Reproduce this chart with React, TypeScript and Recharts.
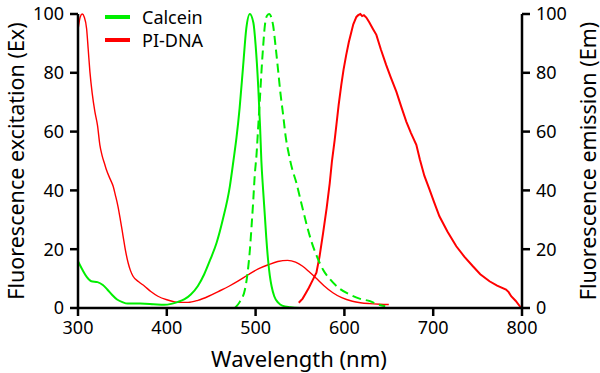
import React from 'react';
import { LineChart, Line, XAxis, YAxis, Legend } from 'recharts';

const wavelengthTicks = [300, 400, 500, 600, 700, 800];
const percentTicks = [0, 20, 40, 60, 80, 100];

// Calcein excitation (solid green)
const calceinExWl = [300, 305, 310, 315, 322, 328, 333, 338, 344, 350, 356, 370, 385, 397, 405, 412, 420, 427, 435, 442, 449, 456, 463, 471, 475, 478.5, 482, 486, 489.5, 493.5, 497.5, 500, 503, 505, 506.5, 508.5, 510.5, 512, 514, 516, 518, 521, 525.5, 530, 539, 550];
const calceinExVal = [15.9, 13, 10.5, 9.1, 8.8, 7.8, 6.3, 4.6, 2.9, 2.0, 1.5, 1.5, 1.3, 1.1, 1.4, 2.0, 3.0, 4.6, 7.5, 11.4, 16.5, 22.1, 30, 41.4, 50, 58, 68, 82.5, 95, 100, 97, 89.5, 75, 62, 50, 40, 31, 24, 16.5, 11, 7.4, 4, 1.8, 0.8, 0.3, 0];

// Calcein emission (dashed green)
const calceinEmWl = [476.7, 482, 488, 491, 493.6, 495.5, 497.4, 499, 501, 503, 505, 506.6, 508.5, 510.4, 513, 515.3, 517.5, 519.8, 522.5, 525.5, 528, 531, 534, 537, 541, 546, 552, 558, 563, 569, 576, 584, 595, 606, 617, 629, 638, 646];
const calceinEmVal = [0, 2, 6.3, 12, 19.9, 28, 36.8, 45, 52, 62, 72, 80.4, 89, 96, 99.5, 100, 99, 96, 89, 80.4, 73, 65.7, 58, 53, 47.5, 42.5, 35, 27.8, 22.5, 17.6, 13, 9.7, 6.5, 4.6, 3.2, 2.3, 1.2, 0.6];

// PI-DNA excitation (thin red)
const piExWl = [300, 302.5, 304.8, 307, 309.7, 311.5, 313.4, 316, 319, 322, 324.6, 327, 330, 332, 336, 339.6, 342, 345, 348, 350.8, 353.5, 356.5, 359, 362, 368, 375, 382, 390, 400, 409, 416, 424, 435, 447, 458, 470, 481, 492, 503, 515, 525, 536, 545, 553, 560, 568, 577, 587, 597, 609, 618, 628, 640, 650];
const piExVal = [94.6, 99, 100, 99, 95, 88, 80.4, 73, 66.8, 62, 55.5, 52, 49, 47, 44, 41.4, 38.5, 34.6, 29.5, 24.4, 19.5, 15.3, 12.8, 10.8, 9, 7.4, 5.6, 4, 2.8, 2.1, 1.9, 1.9, 2.6, 4.0, 5.6, 7.4, 9.3, 11.4, 13.3, 14.8, 15.8, 16.2, 15.6, 14.2, 12.4, 10.2, 7.6, 5.2, 3.5, 2.3, 1.8, 1.5, 1.3, 1.2];

// PI-DNA emission (red)
const piEmWl = [548.6, 553, 556, 560, 564, 568.5, 572, 576, 580, 583.5, 586, 589, 591, 593.5, 596.5, 599, 602, 605, 607.9, 610, 613.5, 615.5, 618, 620, 622, 624.7, 628, 632, 636, 641, 647, 652, 658.5, 664, 669.7, 675, 681, 685, 690, 696, 701, 707, 716, 726, 735, 744.7, 753, 763.4, 772, 782, 785, 787.8, 793, 799];
const piEmVal = [1.8, 3.2, 4.8, 6.9, 9.3, 12, 17.5, 25.5, 34, 42.5, 50, 57, 62.3, 69, 75.9, 81, 86, 90.5, 94, 96.5, 99, 99.6, 100, 99.3, 99.6, 98.8, 97.2, 95, 92.9, 88, 82.7, 78.6, 73.6, 68.5, 63.4, 59.5, 55.5, 50.5, 45, 40.2, 36, 31.2, 26, 21, 17.5, 14.2, 11.5, 9.1, 7.6, 6.3, 5.4, 4.0, 2.4, 0];

const zip = (xs: number[], ys: number[]) => xs.map((x, i) => ({ x, y: ys[i] }));

const calceinEx = zip(calceinExWl, calceinExVal);
const calceinEm = zip(calceinEmWl, calceinEmVal);
const piEx = zip(piExWl, piExVal);
const piEm = zip(piEmWl, piEmVal);

const GREEN = '#00ee00';
const RED = '#ff0000';
const FONT = 'Noto Sans';

const legendItems = [
  { name: 'Calcein', color: GREEN },
  { name: 'PI-DNA', color: RED },
];

const LegendContent = () => (
  <div style={{ fontFamily: FONT, fontSize: 18, color: '#000', textAlign: 'left' }}>
    {legendItems.map((it) => (
      <div key={it.name} style={{ display: 'flex', alignItems: 'center', height: 23 }}>
        <span style={{ display: 'inline-block', width: 25, height: 4, background: it.color, marginRight: 12 }} />
        <span>{it.name}</span>
      </div>
    ))}
  </div>
);

const axisStroke = { stroke: '#000', strokeWidth: 2.5 };
const tickStyle = { fontSize: 18, fill: '#000', fontFamily: FONT };

export default function App() {
  return (
    <div style={{ position: 'absolute', left: 0, top: 0, background: '#fff' }}>
      <LineChart width={600} height={373} margin={{ top: 14, right: 0, bottom: 0, left: 0 }}>
        <XAxis
          dataKey="x"
          type="number"
          domain={[300, 800]}
          ticks={wavelengthTicks}
          allowDataOverflow
          height={65}
          axisLine={axisStroke}
          tickLine={axisStroke}
          tickSize={8}
          tickMargin={5}
          tick={tickStyle}
          label={{
            content: () => (
              <text x={299} y={358} textAnchor="middle" dominantBaseline="central" fontSize={22} fontFamily={FONT} fill="#000">
                Wavelength (nm)
              </text>
            ),
          }}
        />
        <YAxis
          yAxisId="ex"
          orientation="left"
          domain={[0, 100]}
          ticks={percentTicks}
          width={78}
          axisLine={axisStroke}
          tickLine={axisStroke}
          tickSize={8}
          tickMargin={6}
          tick={tickStyle}
          label={{
            content: () => (
              <text x={15} y={161} transform="rotate(-90 15 161)" textAnchor="middle" dominantBaseline="central" fontSize={21.5} fontFamily={FONT} fill="#000">
                Fluorescence excitation (Ex)
              </text>
            ),
          }}
        />
        <YAxis
          yAxisId="em"
          orientation="right"
          domain={[0, 100]}
          ticks={percentTicks}
          width={78}
          axisLine={axisStroke}
          tickLine={axisStroke}
          tickSize={8}
          tickMargin={6}
          tick={tickStyle}
          label={{
            content: () => (
              <text x={587} y={161} transform="rotate(-90 587 161)" textAnchor="middle" dominantBaseline="central" fontSize={21.5} fontFamily={FONT} fill="#000">
                Fluorescence emission (Em)
              </text>
            ),
          }}
        />
        <Legend
          layout="vertical"
          verticalAlign="middle"
          align="center"
          wrapperStyle={{ left: 105, top: 5, width: 'auto' }}
          content={LegendContent}
        />
        <Line yAxisId="ex" data={piEx} dataKey="y" type="monotone" stroke={RED} strokeWidth={1.4} dot={false} isAnimationActive={false} />
        <Line yAxisId="em" data={piEm} dataKey="y" type="linear" stroke={RED} strokeWidth={2} dot={false} isAnimationActive={false} />
        <Line yAxisId="ex" data={calceinEx} dataKey="y" type="monotone" stroke={GREEN} strokeWidth={2} dot={false} isAnimationActive={false} />
        <Line yAxisId="em" data={calceinEm} dataKey="y" type="monotone" stroke={GREEN} strokeWidth={2} strokeDasharray="9 5" dot={false} isAnimationActive={false} />
      </LineChart>
    </div>
  );
}
